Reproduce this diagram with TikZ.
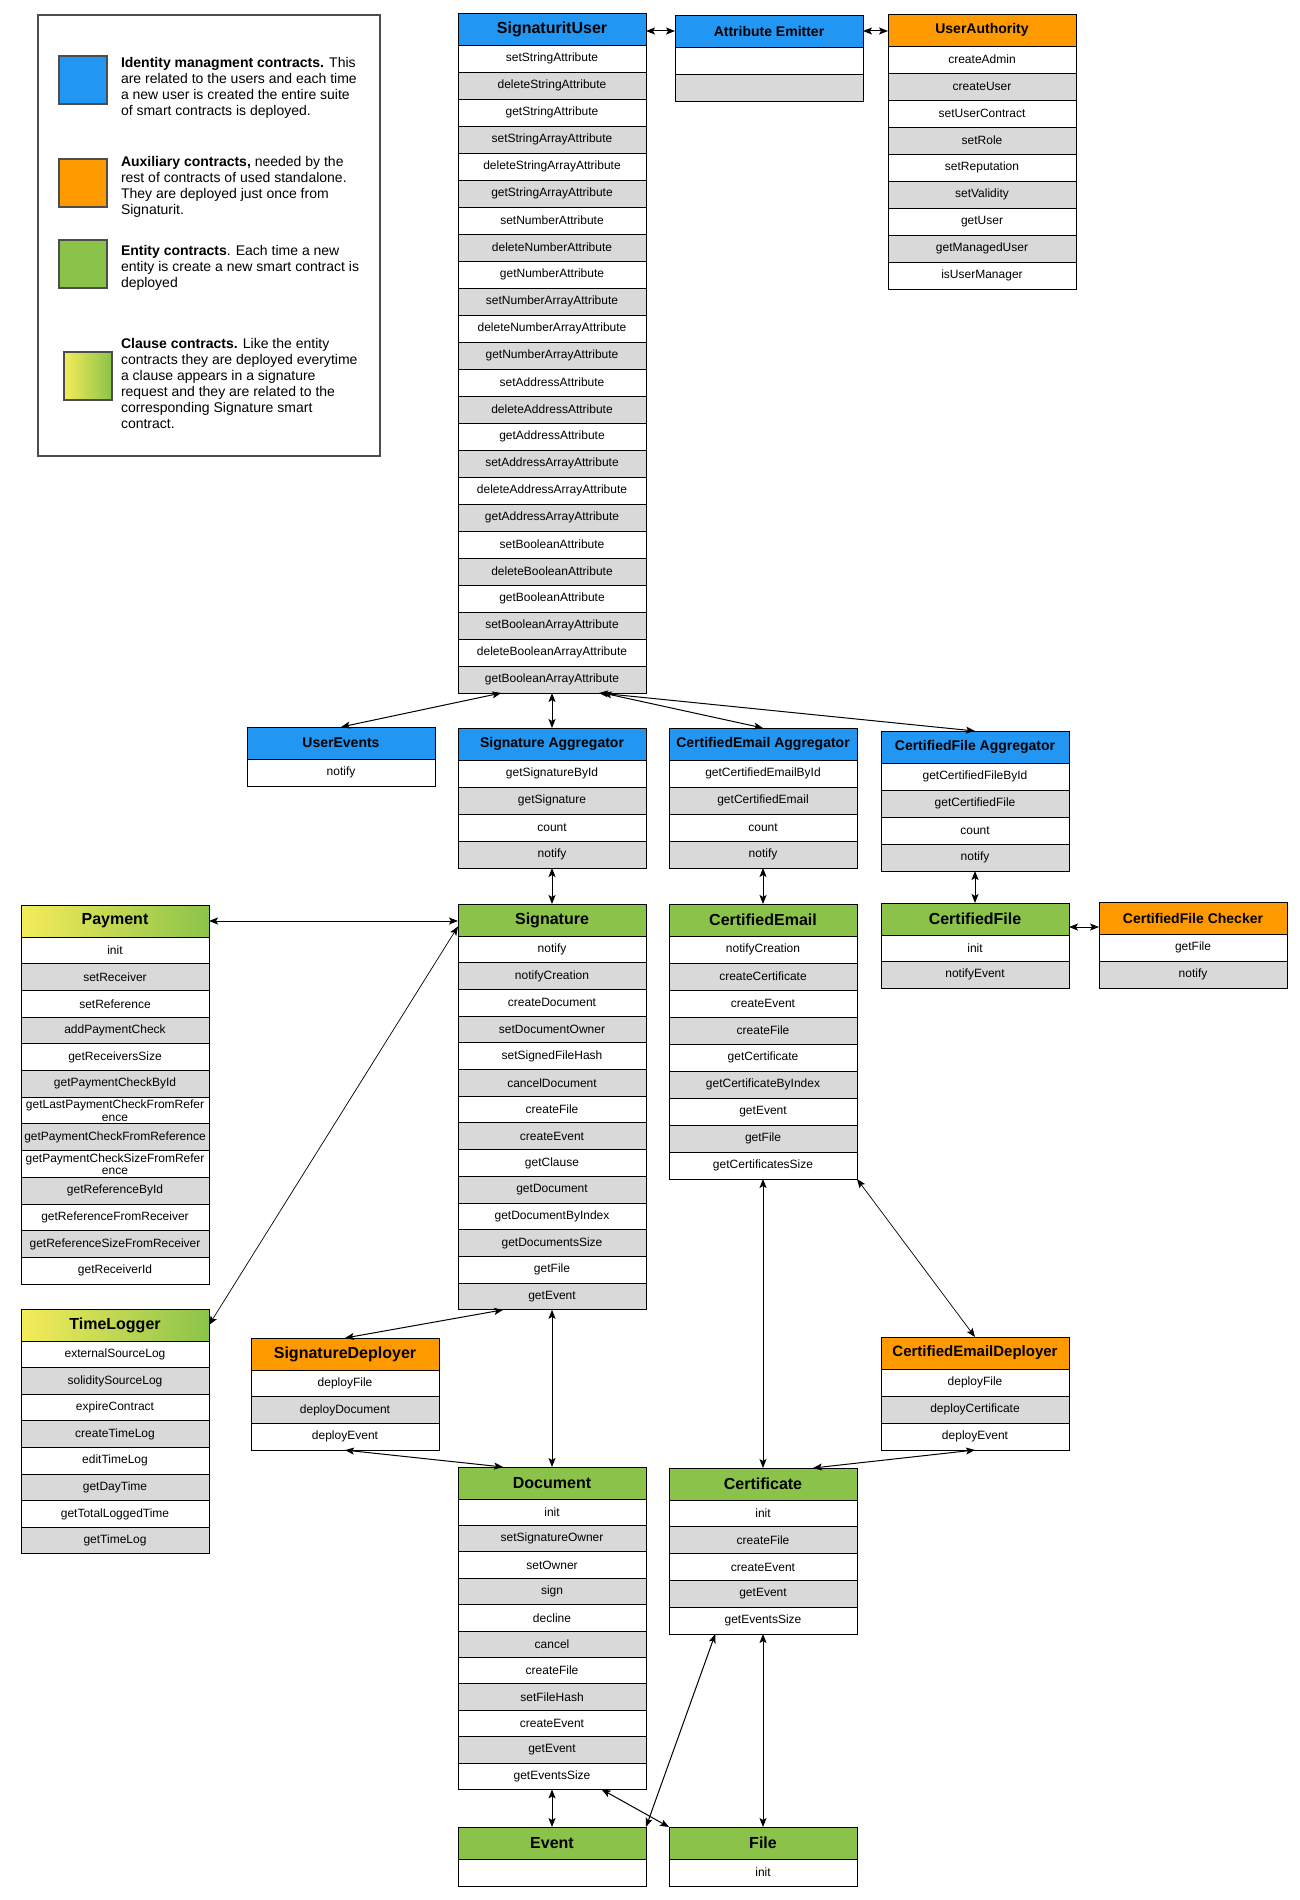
\documentclass[tikz,border=0pt]{standalone}
\usepackage{fontspec}
\setmainfont{Liberation Sans}
\usetikzlibrary{arrows.meta,positioning,calc}
\definecolor{idblue}{HTML}{2196F3}
\definecolor{auxorange}{HTML}{FF9900}
\definecolor{entgreen}{HTML}{8BC34A}
\definecolor{clyellow}{HTML}{F5EC5A}
\definecolor{rowgray}{HTML}{D9D9D9}
\definecolor{keyborder}{HTML}{4D4D4D}

\begin{document}
\begin{tikzpicture}[x=1pt, y=-1pt,
  every node/.style={outer sep=0pt, inner sep=0pt},
  head/.style={draw, line width=0.9pt, minimum width=188pt, minimum height=32pt,
               anchor=north west, font=\bfseries\fontsize{16}{16}\selectfont},
  headsm/.style={head, font=\bfseries\fontsize{14}{14}\selectfont},
  idhead/.style={headsm, fill=idblue},
  auxhead/.style={headsm, fill=auxorange},
  enthead/.style={head, fill=entgreen},
  clhead/.style={head, left color=clyellow, right color=entgreen},
  row/.style={draw, line width=0.9pt, minimum width=188pt, anchor=north west,
              align=center, font=\fontsize{12}{12.5}\selectfont},
  legendbox/.style={draw=keyborder, line width=1.8pt, anchor=north west},
  keysq/.style={draw=keyborder, line width=2pt, minimum size=48pt, anchor=north west},
  legtext/.style={anchor=north west, align=left, font=\fontsize{14}{16}\selectfont},
  arr/.style={{Stealth[length=9pt,width=7pt,inset=2pt]}-{Stealth[length=9pt,width=7pt,inset=2pt]}, line width=1pt},
  thinarr/.style={arr, line width=0.7pt},
]
\useasboundingbox (0,0) rectangle (1300,1900);

%% Legend
\node[legendbox, minimum width=342pt, minimum height=441pt] (legend) at (38,15) {};
\node[keysq, fill=idblue] (keyid) at (59,56) {};
\node[keysq, fill=auxorange] (keyaux) at (59,159) {};
\node[keysq, fill=entgreen] (keyent) at (59,240) {};
\node[keysq, left color=clyellow, right color=entgreen] (keycl) at (64,352) {};
\node[legtext] (txtid) at (121,57)
  {\textbf{Identity managment contracts.} This\\are related to the users and each time\\
   a new user is created the entire suite\\of smart contracts is deployed.};
\node[legtext] (txtaux) at (121,156)
  {\textbf{Auxiliary contracts,} needed by the\\rest of contracts of used standalone.\\
   They are deployed just once from\\Signaturit.};
\node[legtext] (txtent) at (121,245)
  {\textbf{Entity contracts}. Each time a new\\entity is create a new smart contract is\\deployed};
\node[legtext] (txtcl) at (121,338)
  {\textbf{Clause contracts.} Like the entity\\contracts they are deployed everytime\\
   a clause appears in a signature\\request and they are related to the\\
   corresponding Signature smart\\contract.};

%% Identity contracts
\node[head, fill=idblue] (su) at (458,13) {SignaturitUser};
\foreach \m [count=\i] in {setStringAttribute, deleteStringAttribute, getStringAttribute,
    setStringArrayAttribute, deleteStringArrayAttribute, getStringArrayAttribute,
    setNumberAttribute, deleteNumberAttribute, getNumberAttribute,
    setNumberArrayAttribute, deleteNumberArrayAttribute, getNumberArrayAttribute,
    setAddressAttribute, deleteAddressAttribute, getAddressAttribute,
    setAddressArrayAttribute, deleteAddressArrayAttribute, getAddressArrayAttribute,
    setBooleanAttribute, deleteBooleanAttribute, getBooleanAttribute,
    setBooleanArrayAttribute, deleteBooleanArrayAttribute, getBooleanArrayAttribute} {
  \ifodd\i \def\rf{white}\else \def\rf{rowgray}\fi
  \node[row, fill=\rf, minimum height=27pt] (su-\i) at ($(su.south west)+(0,{(\i-1)*27})$) {\m};
}

\node[idhead] (ae) at (675,15) {Attribute Emitter};
\node[row, fill=white, minimum height=27pt, below=0pt of ae] (ae-1) {};
\node[row, fill=rowgray, minimum height=27pt, below=0pt of ae-1] (ae-2) {};

\node[auxhead] (ua) at (888,14) {UserAuthority};
\foreach \m [count=\i] in {createAdmin, createUser, setUserContract, setRole, setReputation,
    setValidity, getUser, getManagedUser, isUserManager} {
  \ifodd\i \def\rf{white}\else \def\rf{rowgray}\fi
  \node[row, fill=\rf, minimum height=27pt] (ua-\i) at ($(ua.south west)+(0,{(\i-1)*27})$) {\m};
}

\node[idhead] (ue) at (247,727) {UserEvents};
\node[row, fill=white, minimum height=27pt, below=0pt of ue] (ue-1) {notify};

%% Aggregators
\node[idhead] (sa) at (458,728) {Signature Aggregator};
\foreach \m [count=\i] in {getSignatureById, getSignature, count, notify} {
  \ifodd\i \def\rf{white}\else \def\rf{rowgray}\fi
  \node[row, fill=\rf, minimum height=27pt] (sa-\i) at ($(sa.south west)+(0,{(\i-1)*27})$) {\m};
}

\node[idhead] (cea) at (669,728) {CertifiedEmail Aggregator};
\foreach \m [count=\i] in {getCertifiedEmailById, getCertifiedEmail, count, notify} {
  \ifodd\i \def\rf{white}\else \def\rf{rowgray}\fi
  \node[row, fill=\rf, minimum height=27pt] (cea-\i) at ($(cea.south west)+(0,{(\i-1)*27})$) {\m};
}

\node[idhead] (cfa) at (881,731) {CertifiedFile Aggregator};
\foreach \m [count=\i] in {getCertifiedFileById, getCertifiedFile, count, notify} {
  \ifodd\i \def\rf{white}\else \def\rf{rowgray}\fi
  \node[row, fill=\rf, minimum height=27pt] (cfa-\i) at ($(cfa.south west)+(0,{(\i-1)*27})$) {\m};
}

%% Entity and clause contracts
\node[clhead] (pay) at (21,905) {Payment};
\foreach \m [count=\i] in {init, setReceiver, setReference, addPaymentCheck, getReceiversSize,
    getPaymentCheckById, {getLastPaymentCheckFromRefer\\ence}, getPaymentCheckFromReference,
    {getPaymentCheckSizeFromRefer\\ence}, getReferenceById, getReferenceFromReceiver,
    getReferenceSizeFromReceiver, getReceiverId} {
  \ifodd\i \def\rf{white}\else \def\rf{rowgray}\fi
  \node[row, fill=\rf, minimum height=26.7pt] (pay-\i) at ($(pay.south west)+(0,{(\i-1)*26.7})$) {\m};
}

\node[enthead] (sig) at (458,904) {Signature};
\foreach \m [count=\i] in {notify, notifyCreation, createDocument, setDocumentOwner,
    setSignedFileHash, cancelDocument, createFile, createEvent, getClause, getDocument,
    getDocumentByIndex, getDocumentsSize, getFile, getEvent} {
  \ifodd\i \def\rf{white}\else \def\rf{rowgray}\fi
  \node[row, fill=\rf, minimum height=26.7pt] (sig-\i) at ($(sig.south west)+(0,{(\i-1)*26.7})$) {\m};
}

\node[enthead] (cem) at (669,904) {CertifiedEmail};
\foreach \m [count=\i] in {notifyCreation, createCertificate, createEvent, createFile,
    getCertificate, getCertificateByIndex, getEvent, getFile, getCertificatesSize} {
  \ifodd\i \def\rf{white}\else \def\rf{rowgray}\fi
  \node[row, fill=\rf, minimum height=27pt] (cem-\i) at ($(cem.south west)+(0,{(\i-1)*27})$) {\m};
}

\node[enthead] (cf) at (881,903) {CertifiedFile};
\node[row, fill=white, minimum height=26.5pt, below=0pt of cf] (cf-1) {init};
\node[row, fill=rowgray, minimum height=26.5pt, below=0pt of cf-1] (cf-2) {notifyEvent};

\node[auxhead] (cfc) at (1099,902) {CertifiedFile Checker};
\node[row, fill=white, minimum height=27pt, below=0pt of cfc] (cfc-1) {getFile};
\node[row, fill=rowgray, minimum height=27pt, below=0pt of cfc-1] (cfc-2) {notify};

\node[clhead] (tl) at (21,1309) {TimeLogger};
\foreach \m [count=\i] in {externalSourceLog, soliditySourceLog, expireContract, createTimeLog,
    editTimeLog, getDayTime, getTotalLoggedTime, getTimeLog} {
  \ifodd\i \def\rf{white}\else \def\rf{rowgray}\fi
  \node[row, fill=\rf, minimum height=26.6pt] (tl-\i) at ($(tl.south west)+(0,{(\i-1)*26.6})$) {\m};
}

%% Deployers
\node[head, fill=auxorange] (sd) at (251,1338) {SignatureDeployer};
\foreach \m [count=\i] in {deployFile, deployDocument, deployEvent} {
  \ifodd\i \def\rf{white}\else \def\rf{rowgray}\fi
  \node[row, fill=\rf, minimum height=26.7pt] (sd-\i) at ($(sd.south west)+(0,{(\i-1)*26.7})$) {\m};
}

\node[head, fill=auxorange, font=\bfseries\fontsize{15}{15}\selectfont] (ced) at (881,1337) {CertifiedEmailDeployer};
\foreach \m [count=\i] in {deployFile, deployCertificate, deployEvent} {
  \ifodd\i \def\rf{white}\else \def\rf{rowgray}\fi
  \node[row, fill=\rf, minimum height=27pt] (ced-\i) at ($(ced.south west)+(0,{(\i-1)*27})$) {\m};
}

%% Document, Certificate, Event, File
\node[enthead] (doc) at (458,1467) {Document};
\foreach \m [count=\i] in {init, setSignatureOwner, setOwner, sign, decline, cancel, createFile,
    setFileHash, createEvent, getEvent, getEventsSize} {
  \ifodd\i \def\rf{white}\else \def\rf{rowgray}\fi
  \node[row, fill=\rf, minimum height=26.4pt] (doc-\i) at ($(doc.south west)+(0,{(\i-1)*26.4})$) {\m};
}

\node[enthead] (cert) at (669,1468) {Certificate};
\foreach \m [count=\i] in {init, createFile, createEvent, getEvent, getEventsSize} {
  \ifodd\i \def\rf{white}\else \def\rf{rowgray}\fi
  \node[row, fill=\rf, minimum height=26.8pt] (cert-\i) at ($(cert.south west)+(0,{(\i-1)*26.8})$) {\m};
}

\node[enthead] (ev) at (458,1827) {Event};
\node[row, fill=white, minimum height=27pt, below=0pt of ev] (ev-1) {};

\node[enthead] (file) at (669,1827) {File};
\node[row, fill=white, minimum height=27pt, below=0pt of file] (file-1) {init};

%% Arrows
\coordinate (cfport) at ($(cf.north east)!0.75!(cf.south east)$);
\draw[arr] (ae.west -| su.east) -- (ae.west);
\draw[arr] (ae.east) -- (ae.east -| ua.west);
\draw[arr] ($(su-24.south west)!0.23!(su-24.south east)$) -- (ue.north);
\draw[arr] (su-24.south) -- (sa.north);
\draw[arr] ($(su-24.south west)!0.77!(su-24.south east)$) -- (cea.north);
\draw[arr] ($(su-24.south west)!0.75!(su-24.south east)$) -- (cfa.north);
\draw[arr] (sa-4.south) -- (sig.north);
\draw[arr] (cea-4.south) -- (cem.north);
\draw[arr] (cfa-4.south) -- (cf.north);
\draw[arr] (cfport) -- (cfport -| cfc.west);
\draw[arr] (pay.east) -- (pay.east -| sig.west);
\draw[thinarr] ($(sig.north west)!0.7!(sig.south west)$) -- (tl.east);
\draw[arr] ($(sig-14.south west)!0.24!(sig-14.south east)$) -- (sd.north);
\draw[arr] (sd-3.south) -- ($(doc.north west)!0.24!(doc.north east)$);
\draw[arr] (sig-14.south) -- (doc.north);
\draw[arr] (cem-9.south) -- (cert.north);
\draw[thinarr] (cem-9.south east) -- (ced.north);
\draw[arr] (ced-3.south) -- ($(cert.north west)!0.766!(cert.north east)$);
\draw[arr] (doc-11.south) -- (ev.north);
\draw[arr] ($(doc-11.south west)!0.764!(doc-11.south east)$) -- (file.north west);
\draw[arr] ($(cert-5.south west)!0.246!(cert-5.south east)$) -- (ev.north east);
\draw[arr] (cert-5.south) -- (file.north);

\end{tikzpicture}
\end{document}
